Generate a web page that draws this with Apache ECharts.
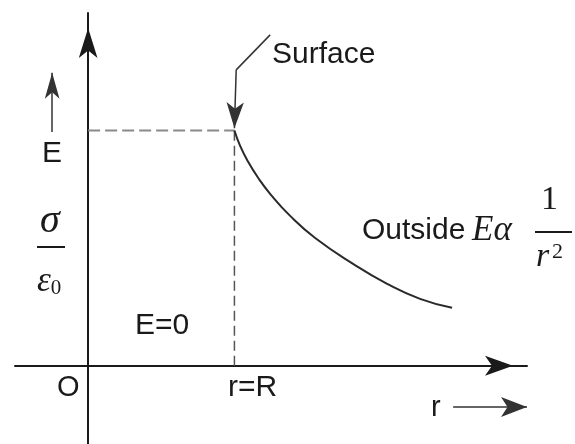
<!DOCTYPE html>
<html>
<head>
<meta charset="utf-8">
<script src="https://cdn.jsdelivr.net/npm/echarts@6/dist/echarts.min.js"></script>
<style>html,body{margin:0;padding:0;background:#fff}#c{width:575px;height:444px}</style>
</head>
<body>
<div id="c"></div>
<script>
// Radius (in units of R) and field (in units of sigma/eps0) of the outside curve
const curveR = [1, 1.039, 1.094, 1.162, 1.244, 1.381, 1.552, 1.811, 2.044, 2.269, 2.488];
const curveE = [1, 0.935, 0.867, 0.799, 0.731, 0.637, 0.543, 0.433, 0.348, 0.284, 0.246];
// Surface position
const surfaceR = 1;
const surfaceE = 1;
// Leader line for "Surface" annotation
const leaderR = [1.244, 1.012, 1.0];
const leaderE = [1.407, 1.258, 1.01];
// Small "E" direction arrow and "r" direction arrow
const eArrowR = [-0.246, -0.246];
const eArrowE = [0.994, 1.246];
const rArrowR = [2.495, 3.0];
const rArrowE = [-0.176, -0.176];

const chart = echarts.init(document.getElementById('c'), null, {renderer: 'canvas'});
const curveData = curveR.map((r, i) => [r, curveE[i]]);
const ink = '#1a1a1a';
const dashColor = '#8a8a8a';
const sans = '"Liberation Sans", Arial, sans-serif';
const serif = '"Liberation Serif", "Times New Roman", serif';

const option = {
  animation: false,
  backgroundColor: '#fff',
  grid: {left: 15, right: 48, top: 13, bottom: 0, containLabel: false},
  xAxis: {
    type: 'value', min: -0.5, max: 3,
    axisLine: {onZero: true, lineStyle: {color: ink, width: 2}, symbol: ['none', 'arrow'], symbolSize: [15, 28], symbolOffset: [0, -14]},
    axisTick: {show: false}, axisLabel: {show: false}, splitLine: {show: false}
  },
  yAxis: {
    type: 'value', min: -1/3, max: 1.5,
    axisLine: {onZero: true, lineStyle: {color: ink, width: 2}, symbol: ['none', 'arrow'], symbolSize: [14, 30], symbolOffset: [0, -15]},
    axisTick: {show: false}, axisLabel: {show: false}, splitLine: {show: false}
  },
  series: [
    {
      type: 'line', name: 'dashH', data: [[0, surfaceE], [surfaceR, surfaceE]],
      symbol: 'none', lineStyle: {color: dashColor, width: 2, type: [12, 5]}, silent: true
    },
    {
      type: 'line', name: 'dashV', data: [[surfaceR, 0], [surfaceR, surfaceE]],
      symbol: 'none', lineStyle: {color: '#555', width: 1.5, type: [10, 5]}, silent: true
    },
    {
      type: 'line', name: 'outside', data: curveData, smooth: 0.5,
      symbol: 'none', lineStyle: {color: '#2a2a2a', width: 2}, silent: true
    },
    {
      type: 'line', name: 'leader', data: [[leaderR[0], leaderE[0]], [leaderR[1], leaderE[1]]],
      symbol: 'none', lineStyle: {color: '#333', width: 1.5}, silent: true,
      markLine: {
        silent: true, animation: false,
        symbolSize: [13, 26],
        label: {show: false},
        lineStyle: {color: '#333', width: 1.5, type: 'solid'},
        data: [
          [{coord: [leaderR[1], leaderE[1]], symbol: 'none'}, {coord: [leaderR[2], leaderE[2]], symbol: 'arrow'}],
          [{coord: [eArrowR[0], eArrowE[0]], symbol: 'none'}, {coord: [eArrowR[1], eArrowE[1]], symbol: 'arrow', symbolSize: [11, 26]}],
          [{coord: [rArrowR[0], rArrowE[0]], symbol: 'none'}, {coord: [rArrowR[1], rArrowE[1]], symbol: 'arrow', symbolSize: [15, 26]}]
        ]
      }
    }
  ],
  graphic: [
    {type: 'text', left: 272, top: 40, style: {text: 'Surface', font: '30px ' + sans, fill: ink}},
    {type: 'text', left: 42, top: 139, style: {text: 'E', font: '30px ' + sans, fill: ink}},
    {type: 'text', left: 40, top: 201, style: {text: 'σ', font: 'italic 40px ' + serif, fill: ink}},
    {type: 'line', shape: {x1: 37, y1: 247, x2: 65, y2: 247}, style: {stroke: ink, lineWidth: 2}},
    {type: 'text', left: 37, top: 264, style: {
      text: '{e|ε}{s|0}', fill: ink,
      rich: {e: {font: 'italic 35px ' + serif, fill: ink}, s: {font: '21px ' + serif, fill: ink, padding: [13, 0, 0, 0]}}
    }},
    {type: 'text', left: 135, top: 311, style: {text: 'E=0', font: '30px ' + sans, fill: ink}},
    {type: 'text', left: 57, top: 373, style: {text: 'O', font: '29px ' + sans, fill: ink}},
    {type: 'text', left: 228, top: 373, style: {text: 'r=R', font: '30px ' + sans, fill: ink}},
    {type: 'text', left: 431, top: 393, style: {text: 'r', font: '29px ' + sans, fill: ink}},
    {type: 'text', left: 362, top: 216, style: {text: 'Outside', font: '30px ' + sans, fill: ink}},
    {type: 'text', left: 472, top: 213, style: {text: 'Eα', font: 'italic 35px ' + serif, fill: ink}},
    {type: 'text', left: 541, top: 183, style: {text: '1', font: '34px ' + serif, fill: ink}},
    {type: 'line', shape: {x1: 535, y1: 232, x2: 572, y2: 232}, style: {stroke: ink, lineWidth: 2}},
    {type: 'text', left: 536, top: 240, style: {text: 'r', font: 'italic 34px ' + serif, fill: ink}},
    {type: 'text', left: 552, top: 241, style: {text: '2', font: '22px ' + serif, fill: ink}}
  ]
};
chart.setOption(option);
</script>
</body>
</html>
